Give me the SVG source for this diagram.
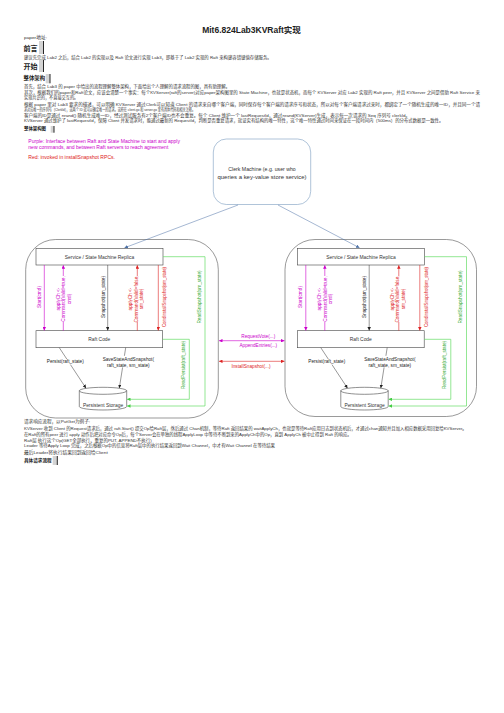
<svg xmlns="http://www.w3.org/2000/svg" width="504" height="713" viewBox="0 0 504 713">
<style>
text{font-family:"Liberation Sans","Noto Sans CJK SC",sans-serif;}
.body{font-size:4.4px;fill:#333;}
.h{font-weight:bold;fill:#222;}
.bar{fill:#d4d4d4;}
.barl{stroke:#111;stroke-width:0.9;}
.lbl{font-size:4.7px;}
.box{fill:#fff;stroke:#444;stroke-width:0.6;}
.cont{fill:none;stroke:#555;stroke-width:0.6;}
.mag{fill:#cc00cc;}
.red{fill:#dd2222;}
.grn{fill:#33aa33;}
.blk{fill:#222;}
.cm{stroke:#cc00cc;stroke-width:0.6;fill:none;}
.cr{stroke:#dd2222;stroke-width:0.6;fill:none;}
.cg{stroke:#66dd66;stroke-width:0.7;fill:none;}
.ck{stroke:#333;stroke-width:0.5;fill:none;}
.cb{stroke:#4a6fa5;stroke-width:0.5;fill:none;}
.wb{fill:#fff;}
</style>
<defs>
<marker id="mk-m" viewBox="0 0 10 10" refX="10" refY="5" markerWidth="3.5" markerHeight="3.5" markerUnits="userSpaceOnUse" orient="auto-start-reverse"><path d="M0,0 L10,5 L0,10 z" fill="#cc00cc"/></marker>
<marker id="mk-r" viewBox="0 0 10 10" refX="10" refY="5" markerWidth="3.5" markerHeight="3.5" markerUnits="userSpaceOnUse" orient="auto-start-reverse"><path d="M0,0 L10,5 L0,10 z" fill="#dd2222"/></marker>
<marker id="mk-g" viewBox="0 0 10 10" refX="10" refY="5" markerWidth="3.5" markerHeight="3.5" markerUnits="userSpaceOnUse" orient="auto"><path d="M0,0 L10,5 L0,10 z" fill="#44cc44"/></marker>
<marker id="mk-k" viewBox="0 0 10 10" refX="10" refY="5" markerWidth="3.5" markerHeight="3.5" markerUnits="userSpaceOnUse" orient="auto"><path d="M0,0 L10,5 L0,10 z" fill="#222"/></marker>
<marker id="mk-b" viewBox="0 0 10 10" refX="10" refY="5" markerWidth="3.5" markerHeight="3.5" markerUnits="userSpaceOnUse" orient="auto"><path d="M0,0 L10,5 L0,10 z" fill="#4a6fa5"/></marker>
</defs>
<rect width="504" height="713" fill="#fff"/>

<g id="page-text">
<text x="251.5" y="33" text-anchor="middle" class="h" font-size="8.5">Mit6.824Lab3KVRaft实现</text>
<text x="24" y="39.2" class="body" textLength="23" lengthAdjust="spacingAndGlyphs">paper地址:</text>
<text x="23.5" y="50.6" class="h" font-size="7">前言</text>
<rect x="39" y="41" width="4.5" height="13" class="bar"/><line x1="43.5" y1="41" x2="43.5" y2="54" class="barl"/>
<text x="24" y="59.2" class="body" textLength="247.7" lengthAdjust="spacingAndGlyphs">建议先完成 Lab2 之后，结合 Lab2 的实现以及 Raft 论文进行实现 Lab3，即基于了 Lab2 实现的 Raft 来构建容错键值存储服务。</text>
<text x="23.5" y="69.3" class="h" font-size="7">开始</text>
<rect x="39" y="60" width="4.5" height="12" class="bar"/><line x1="43.5" y1="60" x2="43.5" y2="72" class="barl"/>
<text x="23.5" y="80.3" class="h" font-size="5.4">整体架构</text>
<rect x="45.7" y="74" width="4.3" height="9.3" class="bar"/><line x1="50" y1="74" x2="50" y2="83.3" class="barl"/>
<text x="24" y="88.2" class="body" textLength="206" lengthAdjust="spacingAndGlyphs">首先，结合 Lab3 的 paper 中给出的流程理解整体架构，下面给出个人理解的请求流程的图，具有助理解。</text>
<text x="24" y="94.2" class="body" textLength="456" lengthAdjust="spacingAndGlyphs">其次，根据我们的paper和Raft论文，应该会清楚一个事实：每个KVServer(raft的server)对应paper架构图里的 State Machine，也就是状态机，而每个 KVServer 对应 Lab2 实现的 Raft peer，并且 KVServer 之间是借助 Raft Service 来</text>
<text x="24" y="99.3" class="body" textLength="54.3" lengthAdjust="spacingAndGlyphs">实现共识的，不直接交互的。</text>
<text x="24" y="105.6" class="body" textLength="456" lengthAdjust="spacingAndGlyphs">根据 paper 里对 Lab3 要求的描述，可以明确 KVServer 通过Clerk可以知道 Client 的请求来自哪个客户端，同时保存每个客户端的请求序号和状态，所以对每个客户端请求过来时，都绑定了一个随机生成的唯一ID，并且同一个请</text>
<text x="24" y="110.6" class="body" textLength="171" lengthAdjust="spacingAndGlyphs">求对应唯一的序列号（ClerkId），这两个 ID 就可以确定唯一的请求。这些在 client.go 和 server.go 里有具体代码和相关注释。</text>
<text x="24" y="116.8" class="body" textLength="386" lengthAdjust="spacingAndGlyphs">客户端的ID是通过 nrand() 随机生成唯一ID，经过测试服务有2个客户端ID也不会重复。每个 Client 维护一个 lastRequestId，通过nrand(KVServer)生成，表示每一次请求的 Seq 序列号 clerkId。</text>
<text x="24" y="122.3" class="body" textLength="419.3" lengthAdjust="spacingAndGlyphs">KVServer 通过维护了 lastRequestId，保障 Client 并发请求时，能通过最新的 RequestId，判断是否重复请求，就证实有结构的唯一特性，这个唯一特性通过时间来保证在一段时间内（500ms）的分布式数据是一致性。</text>
<text x="24" y="130.3" class="h" font-size="4.3" textLength="22" lengthAdjust="spacingAndGlyphs">整体架构图</text>
<rect x="50.7" y="126" width="3.3" height="6.7" class="bar"/><line x1="54" y1="126" x2="54" y2="132.7" class="barl"/>

<text x="24" y="423.3" class="body" textLength="66" lengthAdjust="spacingAndGlyphs">请求响应流程，以PutGet为例子:</text>
<text x="24" y="430" class="body" textLength="442.7" lengthAdjust="spacingAndGlyphs">KVServer 收到 Client 的Request请求后，通过 raft.Start() 提交Op给Raft层，然后通过 Chan机制，等待Raft 返回结果的 waitApplyCh，也就是等待Raft应用日志到状态机后，才通过chan通知并且加入相应数据采用回复给KVServer。</text>
<text x="24" y="435.6" class="body" textLength="327.7" lengthAdjust="spacingAndGlyphs">在Raft的所有peer 进行 apply 动作后把对应命令Op后，每个Server会在单独的线程ApplyLoop 中等待不断到来的ApplyCh中的Op，直到 ApplyCh 被中止得到 Raft 的响应。</text>
<text x="24" y="441.6" class="body" textLength="127.7" lengthAdjust="spacingAndGlyphs">Raft层 执行这个Op(GET全部执行，重复的PUT, APPEND不执行)</text>
<text x="24" y="447.3" class="body" textLength="251" lengthAdjust="spacingAndGlyphs">Leader 等待Apply Loop 完成，之后根据Op中的信息将Raft层中的执行结果返回到Wait Channel，中才有Wait Channel 在等待结果</text>
<text x="24" y="453.6" class="body" textLength="83.7" lengthAdjust="spacingAndGlyphs">最后Leader将执行结果回到返回给Client</text>
<text x="24" y="461.7" class="h" font-size="4.6" textLength="27.7" lengthAdjust="spacingAndGlyphs">具体请求流程</text>
<rect x="52.7" y="456" width="4.6" height="9" class="bar"/><line x1="57.3" y1="456" x2="57.3" y2="465" class="barl"/>
</g>

<g id="legend">
<text x="28.3" y="143.4" class="mag" font-size="4.6" textLength="151.7" lengthAdjust="spacingAndGlyphs">Purple: Interface between Raft and State Machine to start and apply</text>
<text x="28.3" y="148.8" class="mag" font-size="4.6" textLength="140" lengthAdjust="spacingAndGlyphs">new commands, and between Raft servers to reach agreement</text>
<text x="28.3" y="158.7" class="red" font-size="4.6" textLength="86.7" lengthAdjust="spacingAndGlyphs">Red: invoked in installSnapshot RPCs.</text>
</g>

<g id="clerk">
<rect x="213.3" y="139" width="97.4" height="65.5" rx="13" fill="#fff" stroke="#7a9cc0" stroke-width="0.6"/>
<text x="262" y="170.8" text-anchor="middle" font-size="5.2" fill="#333">Clerk Machine (e.g. user who</text>
<text x="262" y="178.8" text-anchor="middle" font-size="5.2" fill="#333" textLength="89" lengthAdjust="spacingAndGlyphs">queries a key-value store service)</text>
</g>

<g id="replica-left">
<rect x="25.7" y="239.5" width="192.6" height="178.5" rx="30" class="cont"/>
</g>
<g id="replica-right">
<rect x="285" y="239.5" width="191.5" height="177" rx="30" class="cont"/>
</g>

<g id="service-left">
<rect x="36" y="248.3" width="127" height="16.7" class="box"/>
<text x="99.5" y="258.8" text-anchor="middle" font-size="4.9" fill="#333">Service / State Machine Replica</text>
</g>
<g id="raft-left">
<rect x="36" y="330.7" width="126.7" height="17" class="box"/>
<text x="99.3" y="341" text-anchor="middle" font-size="4.9" fill="#333">Raft Code</text>
</g>
<g id="storage-left">
<path d="M79.3,390.8 V406.5 A23.7,3.5 0 0 0 126.7,406.5 V390.8 Z" fill="#fff" stroke="#444" stroke-width="0.6"/>
<ellipse cx="103" cy="390.8" rx="23.7" ry="3.5" fill="#fff" stroke="#444" stroke-width="0.6"/>
<text x="103" y="406.6" text-anchor="middle" font-size="4.9" fill="#333">Persistent Storage</text>
</g>

<g id="service-right" transform="translate(261.5 0)">
<rect x="36" y="248.3" width="127" height="16.7" class="box"/>
<text x="99.5" y="258.8" text-anchor="middle" font-size="4.9" fill="#333">Service / State Machine Replica</text>
</g>
<g id="raft-right" transform="translate(261.5 0)">
<rect x="36" y="330.7" width="126.7" height="17" class="box"/>
<text x="99.3" y="341" text-anchor="middle" font-size="4.9" fill="#333">Raft Code</text>
</g>
<g id="storage-right" transform="translate(261.5 0)">
<path d="M79.3,390.8 V406.5 A23.7,3.5 0 0 0 126.7,406.5 V390.8 Z" fill="#fff" stroke="#444" stroke-width="0.6"/>
<ellipse cx="103" cy="390.8" rx="23.7" ry="3.5" fill="#fff" stroke="#444" stroke-width="0.6"/>
<text x="103" y="406.6" text-anchor="middle" font-size="4.9" fill="#333">Persistent Storage</text>
</g>

<g id="connectors">
<path d="M238,205 L124.5,247.8" class="cb" marker-end="url(#mk-b)"/>
<path d="M278,205 L359.5,247.8" class="cb" marker-end="url(#mk-b)"/>
<path d="M219,340.7 H284.5" class="cm" marker-start="url(#mk-m)" marker-end="url(#mk-m)"/>
<path d="M219,361.3 H284.5" class="cr" marker-start="url(#mk-r)" marker-end="url(#mk-r)"/>
<g id="conn-left">
<path d="M44.3,265 V330.5" class="cm" marker-end="url(#mk-m)"/>
<path d="M63.3,330.7 V265.2" class="cm" marker-end="url(#mk-m)"/>
<path d="M107.7,265 V330.5" class="ck" marker-end="url(#mk-k)"/>
<path d="M137.3,330.7 V265.2" class="cr" marker-end="url(#mk-r)"/>
<path d="M158.3,265 V330.5" class="cr" marker-end="url(#mk-r)"/>
<path d="M163,256.7 H205 V406 H127" class="cg" marker-end="url(#mk-g)"/>
<path d="M162.7,339.3 H189.3 V399.3 H127" class="cg" marker-end="url(#mk-g)"/>
<path d="M59.3,347.7 L86,388.2" class="ck" marker-end="url(#mk-k)"/>
<path d="M125.7,347.7 L119.3,388.2" class="ck" marker-end="url(#mk-k)"/>
</g>
<g id="conn-right" transform="translate(261.5 0)">
<path d="M44.3,265 V330.5" class="cm" marker-end="url(#mk-m)"/>
<path d="M63.3,330.7 V265.2" class="cm" marker-end="url(#mk-m)"/>
<path d="M107.7,265 V330.5" class="ck" marker-end="url(#mk-k)"/>
<path d="M137.3,330.7 V265.2" class="cr" marker-end="url(#mk-r)"/>
<path d="M158.3,265 V330.5" class="cr" marker-end="url(#mk-r)"/>
<path d="M163,256.7 H205 V406 H127" class="cg" marker-end="url(#mk-g)"/>
<path d="M162.7,339.3 H189.3 V399.3 H127" class="cg" marker-end="url(#mk-g)"/>
<path d="M59.3,347.7 L86,388.2" class="ck" marker-end="url(#mk-k)"/>
<path d="M125.7,347.7 L119.3,388.2" class="ck" marker-end="url(#mk-k)"/>
</g>
</g>

<g id="connector-labels">
<text x="258.3" y="338.1" text-anchor="middle" class="lbl mag">RequestVote(...)</text>
<text x="258.3" y="346.6" text-anchor="middle" class="lbl mag">AppendEntries(...)</text>
<text x="251" y="367.6" text-anchor="middle" class="lbl red">InstallSnapshot(...)</text>
<g id="labels-left">
<text transform="translate(39.3,297) rotate(-90)" text-anchor="middle" y="1.6" class="lbl mag">Start(cmd)</text>
<rect x="56.5" y="276" width="14" height="46" class="wb"/>
<text transform="translate(63.5,299) rotate(-90)" text-anchor="middle" class="lbl mag"><tspan x="0" y="-3.9">applyCh &lt;-</tspan><tspan x="0" y="1.6">Command(Valid=true,</tspan><tspan x="0" y="7.1">cmd)</tspan></text>
<text transform="translate(103,297) rotate(-90)" text-anchor="middle" y="1.6" class="lbl blk">Snapshot(sm_state)</text>
<rect x="129.5" y="276" width="14" height="46" class="wb"/>
<text transform="translate(136.3,299) rotate(-90)" text-anchor="middle" class="lbl red"><tspan x="0" y="-3.9">applyCh &lt;-</tspan><tspan x="0" y="1.6">Command(Valid=false,</tspan><tspan x="0" y="7.1">sm_state)</tspan></text>
<text transform="translate(164.5,297) rotate(-90)" text-anchor="middle" y="1.6" class="lbl red" textLength="60" lengthAdjust="spacingAndGlyphs">CondInstallSnapshot(sm_state)</text>
<text transform="translate(199,297) rotate(-90)" text-anchor="middle" y="1.6" class="lbl grn">ReadSnapshot(sm_state)</text>
<text transform="translate(183,365) rotate(-90)" text-anchor="middle" y="1.6" class="lbl grn">ReadPersist(raft_state)</text>
<rect x="45.5" y="359" width="40" height="5.6" class="wb"/>
<text x="65.3" y="363.3" text-anchor="middle" class="lbl blk">Persist(raft_state)</text>
<rect x="100.5" y="355.8" width="56" height="11.6" class="wb"/>
<text x="128.3" y="360.6" text-anchor="middle" class="lbl blk">SaveStateAndSnapshot(</text>
<text x="128.3" y="366.6" text-anchor="middle" class="lbl blk">raft_state, sm_state)</text>
</g>
<g id="labels-right" transform="translate(261.5 0)">
<text transform="translate(39.3,297) rotate(-90)" text-anchor="middle" y="1.6" class="lbl mag">Start(cmd)</text>
<rect x="56.5" y="276" width="14" height="46" class="wb"/>
<text transform="translate(63.5,299) rotate(-90)" text-anchor="middle" class="lbl mag"><tspan x="0" y="-3.9">applyCh &lt;-</tspan><tspan x="0" y="1.6">Command(Valid=true,</tspan><tspan x="0" y="7.1">cmd)</tspan></text>
<text transform="translate(103,297) rotate(-90)" text-anchor="middle" y="1.6" class="lbl blk">Snapshot(sm_state)</text>
<rect x="129.5" y="276" width="14" height="46" class="wb"/>
<text transform="translate(136.3,299) rotate(-90)" text-anchor="middle" class="lbl red"><tspan x="0" y="-3.9">applyCh &lt;-</tspan><tspan x="0" y="1.6">Command(Valid=false,</tspan><tspan x="0" y="7.1">sm_state)</tspan></text>
<text transform="translate(164.5,297) rotate(-90)" text-anchor="middle" y="1.6" class="lbl red" textLength="60" lengthAdjust="spacingAndGlyphs">CondInstallSnapshot(sm_state)</text>
<text transform="translate(199,297) rotate(-90)" text-anchor="middle" y="1.6" class="lbl grn">ReadSnapshot(sm_state)</text>
<text transform="translate(183,365) rotate(-90)" text-anchor="middle" y="1.6" class="lbl grn">ReadPersist(raft_state)</text>
<rect x="45.5" y="359" width="40" height="5.6" class="wb"/>
<text x="65.3" y="363.3" text-anchor="middle" class="lbl blk">Persist(raft_state)</text>
<rect x="100.5" y="355.8" width="56" height="11.6" class="wb"/>
<text x="128.3" y="360.6" text-anchor="middle" class="lbl blk">SaveStateAndSnapshot(</text>
<text x="128.3" y="366.6" text-anchor="middle" class="lbl blk">raft_state, sm_state)</text>
</g>
</g>
</svg>
